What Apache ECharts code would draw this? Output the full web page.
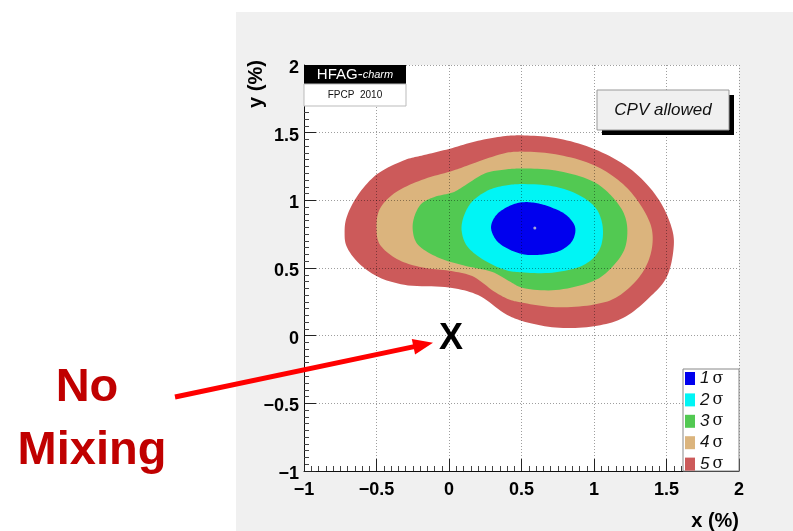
<!DOCTYPE html>
<html>
<head>
<meta charset="utf-8">
<script src="https://cdn.jsdelivr.net/npm/echarts@6/dist/echarts.min.js"></script>
<style>
  html, body { margin: 0; padding: 0; background: #ffffff; }
  #chart { width: 793px; height: 531px; }
</style>
</head>
<body>
<div id="chart"></div>
<script>
// Confidence-level contours in the (x, y) mixing-parameter plane, values in %.
// Each contour is a closed outline listed clockwise as [x, y] pairs.
const levelNames = ['1σ', '2σ', '3σ', '4σ', '5σ'];
const levelColors = ['#0000ee', '#00f5f5', '#52c952', '#dbb47d', '#cc5a5a'];

const sigma5 = [
  [-0.72, 0.76], [-0.71, 0.86], [-0.64, 1.02], [-0.50, 1.19], [-0.30, 1.30],
  [-0.19, 1.33], [0.00, 1.38], [0.20, 1.44], [0.39, 1.475], [0.50, 1.48],
  [0.735, 1.46], [1.00, 1.38], [1.265, 1.22], [1.45, 1.00], [1.54, 0.78],
  [1.55, 0.66], [1.50, 0.43], [1.38, 0.28], [1.20, 0.13], [1.00, 0.07],
  [0.735, 0.06], [0.50, 0.11], [0.39, 0.16], [0.20, 0.30], [0.00, 0.356],
  [-0.31, 0.376], [-0.50, 0.44], [-0.64, 0.555], [-0.71, 0.67]
];
const sigma4 = [
  [-0.50, 0.80], [-0.48, 0.93], [-0.38, 1.05], [-0.19, 1.15], [0.03, 1.22],
  [0.16, 1.27], [0.39, 1.35], [0.50, 1.36], [0.735, 1.34], [1.00, 1.26],
  [1.20, 1.12], [1.33, 0.95], [1.40, 0.78], [1.39, 0.60], [1.31, 0.43],
  [1.15, 0.28], [1.00, 0.23], [0.735, 0.21], [0.50, 0.245], [0.42, 0.265],
  [0.32, 0.32], [0.16, 0.44], [0.00, 0.48], [-0.19, 0.505], [-0.36, 0.567],
  [-0.48, 0.68]
];
const sigma3 = [
  [-0.25, 0.78], [-0.24, 0.876], [-0.19, 0.975], [-0.10, 1.025], [0.03, 1.06],
  [0.11, 1.11], [0.25, 1.20], [0.39, 1.228], [0.50, 1.235], [0.735, 1.22],
  [1.00, 1.136], [1.127, 1.025], [1.207, 0.90], [1.23, 0.78], [1.207, 0.63],
  [1.10, 0.48], [1.00, 0.406], [0.735, 0.337], [0.50, 0.356], [0.42, 0.40],
  [0.30, 0.47], [0.11, 0.517], [-0.08, 0.58], [-0.22, 0.68]
];
const sigma2 = [
  [0.087, 0.777], [0.10, 0.876], [0.157, 0.988], [0.27, 1.074], [0.39, 1.11],
  [0.50, 1.12], [0.735, 1.10], [0.92, 1.025], [1.023, 0.926], [1.062, 0.777],
  [1.035, 0.63], [0.942, 0.53], [0.735, 0.468], [0.50, 0.468], [0.39, 0.485],
  [0.228, 0.567], [0.122, 0.666]
];
const sigma1 = [
  [0.29, 0.80], [0.325, 0.89], [0.41, 0.955], [0.50, 0.985], [0.60, 0.98],
  [0.70, 0.95], [0.81, 0.89], [0.87, 0.80], [0.85, 0.70], [0.77, 0.63],
  [0.65, 0.60], [0.52, 0.60], [0.42, 0.635], [0.33, 0.70]
];
const contours = [sigma1, sigma2, sigma3, sigma4, sigma5];

// Best-fit point and the no-mixing point
const bestFit = [[0.592, 0.795]];
const noMixing = [[0, 0]];

// Axis ranges (%)
const xRange = [-1, 2];
const yRange = [-1, 2];
const tickStep = 0.5;

const FONT = '"Liberation Sans", Arial, Helvetica, sans-serif';

function tickText(v) {
  return v < 0 ? '\u2212' + Math.abs(v) : String(v);
}

// Closed centripetal Catmull-Rom path through pixel points (curve drawing only).
function smoothLoop(pts, steps) {
  const n = pts.length;
  const out = [];
  function knot(t, a, b) {
    const d = Math.hypot(b[0] - a[0], b[1] - a[1]);
    return t + Math.max(Math.sqrt(d), 1e-4);
  }
  function lerp(a, b, ta, tb, t) {
    const w = (t - ta) / (tb - ta);
    return [a[0] + (b[0] - a[0]) * w, a[1] + (b[1] - a[1]) * w];
  }
  for (let i = 0; i < n; i++) {
    const p0 = pts[(i - 1 + n) % n], p1 = pts[i], p2 = pts[(i + 1) % n], p3 = pts[(i + 2) % n];
    const t0 = 0, t1 = knot(t0, p0, p1), t2 = knot(t1, p1, p2), t3 = knot(t2, p2, p3);
    for (let s = 0; s < steps; s++) {
      const t = t1 + (t2 - t1) * s / steps;
      const a1 = lerp(p0, p1, t0, t1, t), a2 = lerp(p1, p2, t1, t2, t), a3 = lerp(p2, p3, t2, t3, t);
      const b1 = lerp(a1, a2, t0, t2, t), b2 = lerp(a2, a3, t1, t3, t);
      out.push(lerp(b1, b2, t1, t2, t));
    }
  }
  return out;
}

function contourSeries(i) {
  const outline = contours[i];
  return {
    name: levelNames[i],
    type: 'custom',
    coordinateSystem: 'cartesian2d',
    z: 2 + (5 - i),
    itemStyle: { color: levelColors[i] },
    data: outline,
    encode: { x: 0, y: 1 },
    renderItem: function (params, api) {
      if (params.dataIndex !== 0) return null;
      const pts = outline.map(function (p) { return api.coord(p); });
      return {
        type: 'polygon',
        shape: { points: smoothLoop(pts, 10) },
        style: { fill: levelColors[i], stroke: null }
      };
    }
  };
}

const chart = echarts.init(document.getElementById('chart'), null, { renderer: 'canvas' });

const labelFont = { fontFamily: FONT, fontWeight: 'bold', fontSize: 18, color: '#000' };

const axisCommon = {
  type: 'value',
  interval: tickStep,
  z: 10,
  axisLine: { show: true, onZero: false, lineStyle: { color: '#111', width: 1 } },
  axisTick: { show: true, inside: true, length: 12, lineStyle: { color: '#222' } },
  minorTick: { show: true, splitNumber: 10, length: 5, lineStyle: { color: '#444' } },
  splitLine: { show: true, lineStyle: { color: 'rgba(0,0,0,0.38)', type: [1, 2], width: 1 } }
};

const series = [];
for (let i = 4; i >= 0; i--) series.push(contourSeries(i));
series.push({
  type: 'scatter',
  data: bestFit,
  symbolSize: 3,
  itemStyle: { color: '#d0d0d0' },
  z: 8,
  silent: true
});
series.push({
  type: 'scatter',
  data: noMixing,
  symbolSize: 0.1,
  itemStyle: { color: '#000', opacity: 1 },
  z: 12,
  silent: true,
  label: {
    show: true, position: 'inside', formatter: 'X',
    fontFamily: FONT, fontWeight: 'bold', fontSize: 36, color: '#000',
    textBorderWidth: 0, offset: [2, 3]
  }
});

chart.setOption({
  animation: false,
  backgroundColor: '#ffffff',
  grid: { left: 304, top: 65, width: 435, height: 406, show: false },
  xAxis: Object.assign({}, axisCommon, {
    min: xRange[0], max: xRange[1],
    axisLabel: Object.assign({}, labelFont, { margin: 10, formatter: tickText })
  }),
  yAxis: Object.assign({}, axisCommon, {
    min: yRange[0], max: yRange[1],
    axisLabel: Object.assign({}, labelFont, {
      margin: 5,
      formatter: function (v) { return '{t|' + tickText(v) + '}'; },
      rich: { t: Object.assign({}, labelFont, { padding: [6, 0, 0, 0] }) }
    })
  }),
  legend: {
    orient: 'vertical',
    left: 685, top: 370,
    padding: 0,
    itemWidth: 10, itemHeight: 13, itemGap: 4.4,
    icon: 'rect',
    z: 20,
    selectedMode: false,
    data: levelNames,
    formatter: function (name) {
      return '{n|' + name.charAt(0) + '}{s|' + name.slice(1) + '}';
    },
    textStyle: {
      lineHeight: 16,
      rich: {
        n: { fontFamily: FONT, fontStyle: 'italic', fontSize: 17, color: '#111', lineHeight: 16 },
        s: { fontFamily: '"DejaVu Serif", "Liberation Serif", serif', fontSize: 16, color: '#111', lineHeight: 16, padding: [0, 0, 0, 3] }
      }
    }
  },
  graphic: [
    // canvas panel and plot area
    { id: 'panel', type: 'rect', z: -20, silent: true, shape: { x: 236, y: 12, width: 557, height: 519 }, style: { fill: '#f0f0f0' } },
    { id: 'plotArea', type: 'rect', z: -10, silent: true, shape: { x: 304, y: 65, width: 435, height: 406 }, style: { fill: '#ffffff' } },
    // legend frame
    { id: 'legendFrame', type: 'rect', z: 15, silent: true, shape: { x: 683, y: 369, width: 56, height: 102 }, style: { fill: '#ffffff', stroke: '#888', lineWidth: 1 } },
    // HFAG label
    { id: 'hfagTop', type: 'rect', z: 15, silent: true, shape: { x: 304, y: 65, width: 102, height: 19 }, style: { fill: '#000' } },
    { id: 'hfagBottom', type: 'rect', z: 15, silent: true, shape: { x: 304, y: 84, width: 102, height: 22 }, style: { fill: '#fff', stroke: '#bbb', lineWidth: 1 } },
    {
      id: 'hfagText', type: 'text', z: 16, silent: true, x: 355, y: 75,
      style: {
        text: '{a|HFAG-}{b|charm}', align: 'center', verticalAlign: 'middle',
        rich: {
          a: { fontFamily: FONT, fontSize: 15, fill: '#fff' },
          b: { fontFamily: FONT, fontSize: 11, fontStyle: 'italic', fill: '#fff' }
        }
      }
    },
    {
      id: 'confText', type: 'text', z: 16, silent: true, x: 355, y: 95,
      style: { text: 'FPCP  2010', fontFamily: FONT, fontSize: 10, fill: '#111', align: 'center', verticalAlign: 'middle' }
    },
    // CPV allowed box with drop shadow
    { id: 'cpvShadow', type: 'rect', z: 15, silent: true, shape: { x: 602, y: 95, width: 132, height: 40 }, style: { fill: '#000' } },
    { id: 'cpvBox', type: 'rect', z: 16, silent: true, shape: { x: 597, y: 90, width: 132, height: 40 }, style: { fill: '#f0f0f0', stroke: '#999', lineWidth: 1 } },
    {
      id: 'cpvText', type: 'text', z: 17, silent: true, x: 663, y: 110,
      style: { text: 'CPV allowed', fontFamily: FONT, fontSize: 17, fontStyle: 'italic', fill: '#111', align: 'center', verticalAlign: 'middle' }
    },
    // axis titles
    {
      id: 'yTitle', type: 'text', z: 16, silent: true, x: 256, y: 84, rotation: Math.PI / 2,
      style: { text: 'y (%)', fontFamily: FONT, fontSize: 20, fontWeight: 'bold', fill: '#000', align: 'center', verticalAlign: 'middle' }
    },
    {
      id: 'xTitle', type: 'text', z: 16, silent: true, x: 739, y: 521,
      style: { text: 'x (%)', fontFamily: FONT, fontSize: 20, fontWeight: 'bold', fill: '#000', align: 'right', verticalAlign: 'middle' }
    },
    // annotation text
    {
      id: 'capNo', type: 'text', z: 16, silent: true, x: 87, y: 388,
      style: { text: 'No', fontFamily: FONT, fontSize: 47, fontWeight: 'bold', fill: '#c00000', align: 'center', verticalAlign: 'middle' }
    },
    {
      id: 'capMixing', type: 'text', z: 16, silent: true, x: 92, y: 451,
      style: { text: 'Mixing', fontFamily: FONT, fontSize: 47, fontWeight: 'bold', fill: '#c00000', align: 'center', verticalAlign: 'middle' }
    }
  ],
  series: series
});

// Arrow from the "No Mixing" caption to the origin marker
(function drawArrow() {
  const origin = chart.convertToPixel({ gridIndex: 0 }, noMixing[0]);
  const tip = [origin[0] - 16, origin[1] + 7];
  const tail = [175, 397];
  const dx = tip[0] - tail[0], dy = tip[1] - tail[1];
  const len = Math.sqrt(dx * dx + dy * dy);
  const ux = dx / len, uy = dy / len;
  const headLen = 20, headHalf = 8;
  const base = [tip[0] - ux * headLen, tip[1] - uy * headLen];
  const px = -uy, py = ux;
  chart.setOption({
    graphic: [
      {
        id: 'arrowShaft', type: 'line', z: 30, silent: true,
        shape: { x1: tail[0], y1: tail[1], x2: base[0] + ux * 2, y2: base[1] + uy * 2 },
        style: { stroke: '#ff0000', lineWidth: 5 }
      },
      {
        id: 'arrowHead', type: 'polygon', z: 30, silent: true,
        shape: { points: [tip, [base[0] + px * headHalf, base[1] + py * headHalf], [base[0] - px * headHalf, base[1] - py * headHalf]] },
        style: { fill: '#ff0000' }
      }
    ]
  });
})();
</script>
</body>
</html>
